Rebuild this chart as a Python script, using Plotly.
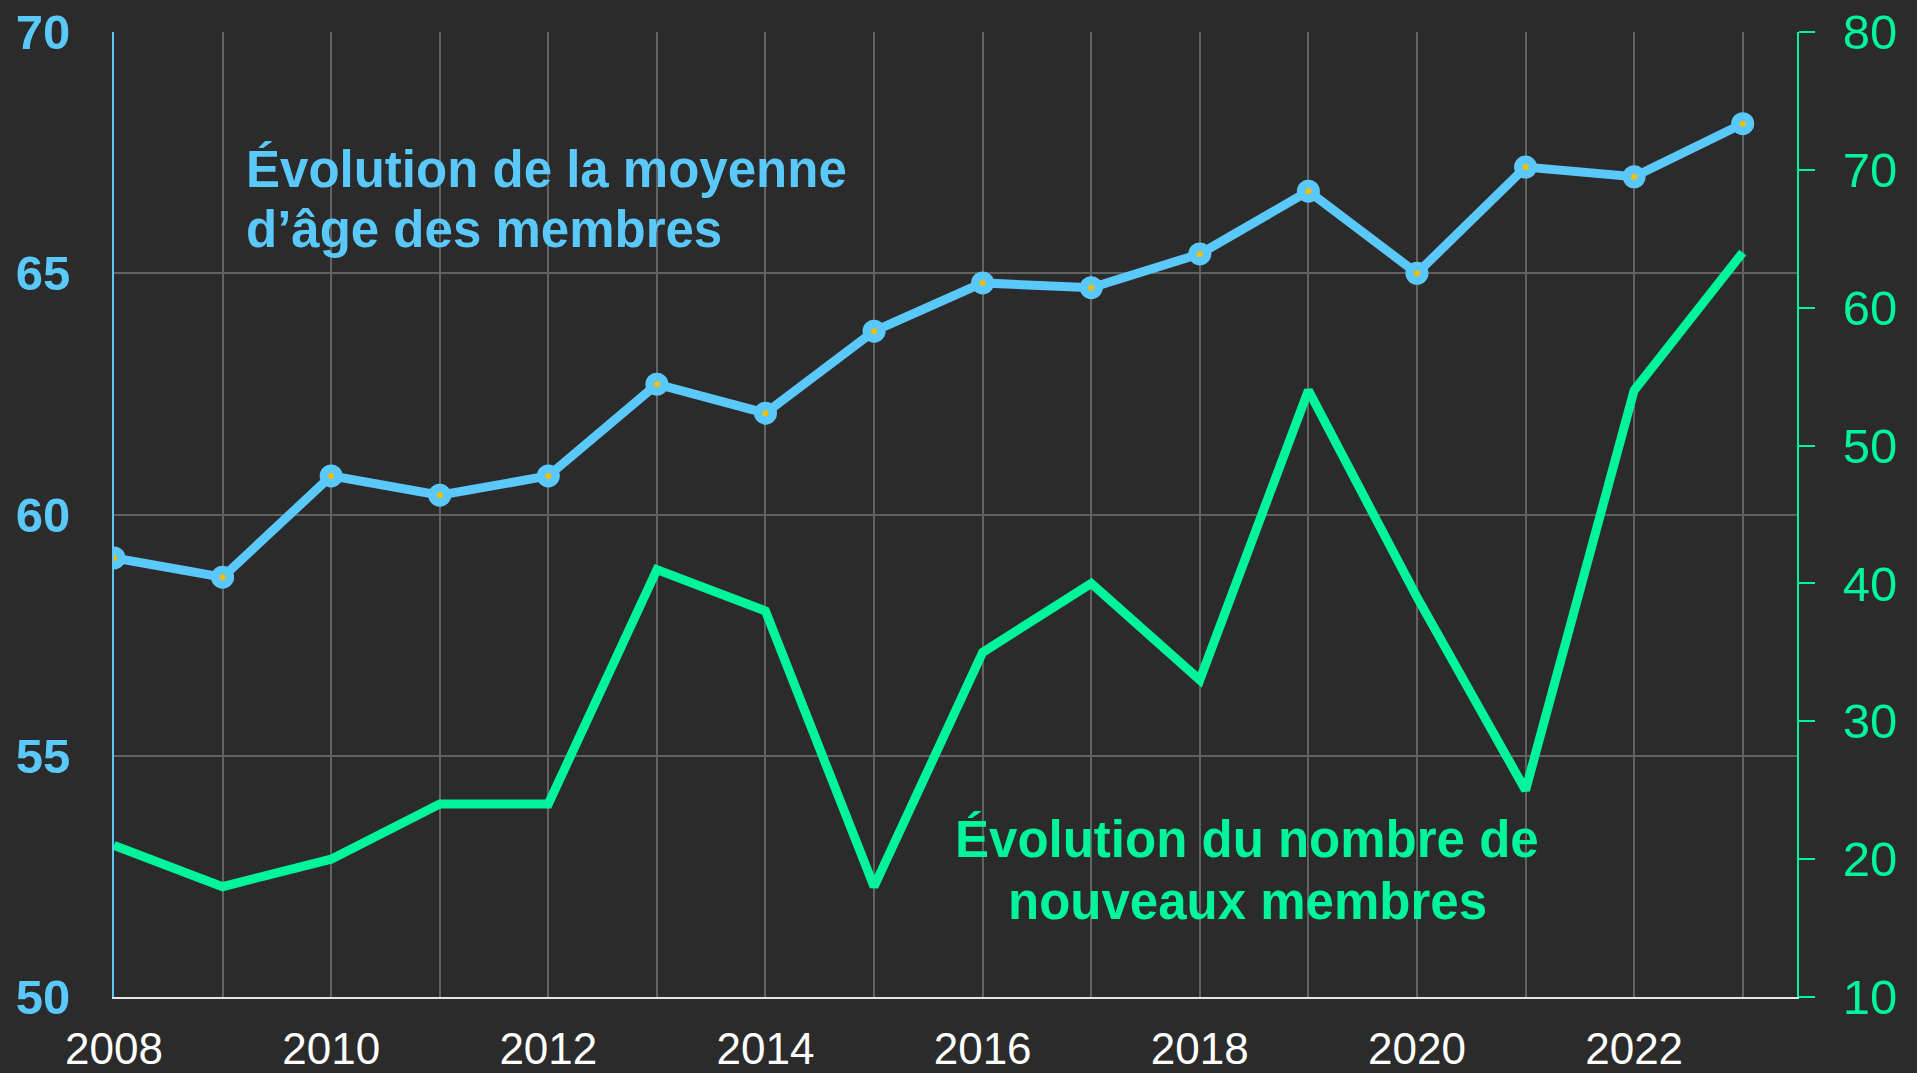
import plotly.graph_objects as go

years = list(range(2008, 2024))
age_moyenne = [59.1, 58.7, 60.8, 60.4, 60.8, 62.7, 62.1, 63.8, 64.8, 64.7, 65.4, 66.7, 65.0, 67.2, 67.0, 68.1]
nouveaux_membres = [21, 18, 20, 24, 24, 41, 38, 18, 35, 40, 33, 54, 39, 25, 54, 64]
x_ticktext = [str(y) if y % 2 == 0 else "" for y in years]

BLUE = "#5BC8FA"
GREEN = "#00F59B"
BG = "#2B2B2B"
GRID = "#626262"
TXT = "Arial, Liberation Sans, sans-serif"

L, T, R, B = 114, 32, 1797, 997
PW, PH = R - L, B - T


def px(xp):
    return (xp - L) / PW


def py(yp):
    return (B - yp) / PH


fig = go.Figure()
fig.add_trace(go.Scatter(x=years, y=nouveaux_membres, yaxis="y2", mode="lines",
                         line=dict(color=GREEN, width=9), showlegend=False))
fig.add_trace(go.Scatter(x=years, y=age_moyenne, yaxis="y", mode="lines+markers",
                         line=dict(color=BLUE, width=9),
                         marker=dict(size=23, color=BLUE), showlegend=False))
fig.add_trace(go.Scatter(x=years, y=age_moyenne, yaxis="y", mode="markers",
                         marker=dict(size=6, color="#F5BE00"), showlegend=False))

ann_font_b = dict(family=TXT, size=51, color=BLUE, weight="bold")
ann_font_g = dict(family=TXT, size=51, color=GREEN, weight="bold")

fig.update_layout(
    width=1917, height=1073, autosize=False,
    paper_bgcolor=BG, plot_bgcolor=BG,
    margin=dict(l=L, r=1917 - R, t=T, b=1073 - B, pad=0, autoexpand=False),
    font=dict(family="Arial, Liberation Sans, sans-serif"),
    xaxis=dict(range=[2008, 2023.5], tickvals=years, ticktext=x_ticktext,
               showgrid=True, gridcolor=GRID, gridwidth=2,
               showline=True, linecolor="#E6E6E6", linewidth=2,
               ticks="", tickfont=dict(size=44, color="white"),
               ticklabelstandoff=12, zeroline=False, automargin=False),
    yaxis=dict(range=[50, 70], dtick=5, showgrid=True, gridcolor=GRID, gridwidth=2,
               showline=True, linecolor=BLUE, linewidth=2, ticks="",
               tickfont=dict(size=49, color=BLUE, weight="bold"),
               ticklabelstandoff=32, zeroline=False, automargin=False),
    yaxis2=dict(range=[10, 80], dtick=10, overlaying="y", side="right",
                showgrid=False, showline=True, linecolor=GREEN, linewidth=2,
                ticks="outside", ticklen=16, tickwidth=2, tickcolor=GREEN,
                tickfont=dict(size=49, color=GREEN),
                ticklabelstandoff=18, zeroline=False, automargin=False),
    annotations=[
        dict(text="Évolution de la moyenne", xref="paper", yref="paper",
             x=px(244), y=py(169), xanchor="left", yanchor="middle",
             showarrow=False, font=ann_font_b),
        dict(text="d’âge des membres", xref="paper", yref="paper",
             x=px(244), y=py(230), xanchor="left", yanchor="middle",
             showarrow=False, font=ann_font_b),
        dict(text="Évolution du nombre de", xref="paper", yref="paper",
             x=px(1247), y=py(839), xanchor="center", yanchor="middle",
             showarrow=False, font=ann_font_g),
        dict(text="nouveaux membres", xref="paper", yref="paper",
             x=px(1247), y=py(901), xanchor="center", yanchor="middle",
             showarrow=False, font=ann_font_g),
    ],
)

fig.write_html("out.html", config={"displayModeBar": False},
               post_script="document.body.style.margin='0';document.body.style.overflow='hidden';")
